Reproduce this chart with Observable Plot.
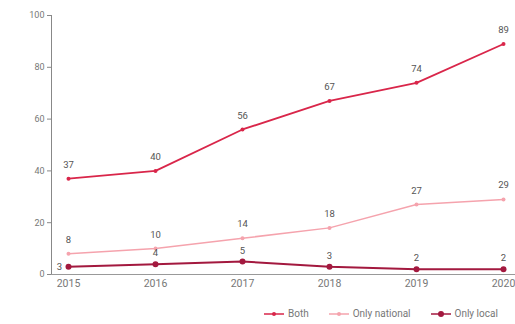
<!DOCTYPE html>
<html><head><meta charset="utf-8">
<script src="https://cdn.jsdelivr.net/npm/d3@7"></script>
<script src="https://cdn.jsdelivr.net/npm/@observablehq/plot@0.6"></script>
<style>
html,body{margin:0;padding:0;background:#fff;overflow:hidden;width:515px;height:324px;}
#wrap{position:relative;width:515px;height:324px;overflow:hidden;font-family:Roboto, "Noto Sans", sans-serif;}
#chart svg{max-width:none !important;}
#legend{position:absolute;left:264px;top:308px;display:flex;gap:20px;font-size:10px;color:#777;white-space:nowrap;align-items:center;}
#legend span.item{display:flex;align-items:center;gap:4px;}
</style></head>
<body><div id="wrap"><div id="chart"></div><div id="legend"></div></div>
<script>
const years = [2015, 2016, 2017, 2018, 2019, 2020];
const both = [37, 40, 56, 67, 74, 89];
const onlyNational = [8, 10, 14, 18, 27, 29];
const onlyLocal = [3, 4, 5, 3, 2, 2];
const seriesNames = ["Both", "Only national", "Only local"];
const seriesColors = ["#d9264a", "#f5a3ad", "#a3193f"];
const yTicks = [0, 20, 40, 60, 80, 100];

const rows = [];
[both, onlyNational, onlyLocal].forEach((vals, i) => {
  vals.forEach((v, j) => rows.push({series: seriesNames[i], year: years[j], value: v}));
});
const get = s => rows.filter(d => d.series === s);

const color = {domain: seriesNames, range: seriesColors};

const plot = Plot.plot({
  width: 540,
  height: 296,
  marginLeft: 51,
  marginRight: 20,
  marginTop: 15,
  marginBottom: 22,
  insetLeft: 17,
  insetRight: 17,
  style: {fontFamily: "Roboto, 'Noto Sans', sans-serif", fontSize: "9px", color: "#777", background: "#fff", maxWidth: "none"},
  x: {domain: [2015, 2020], ticks: years, tickFormat: d => String(d)},
  y: {domain: [0, 100]},
  color,
  marks: [
    Plot.axisY({ticks: yTicks, tickSize: 4, tickPadding: 3, stroke: "#888", fill: "#777", fontSize: 9, label: null}),
    Plot.axisX({ticks: years, tickSize: 0, tickPadding: 5, fill: "#777", fontSize: 10.5, label: null, tickFormat: d => String(d)}),
    Plot.frame({anchor: "left", stroke: "#888"}),
    Plot.ruleY([0], {stroke: "#999", strokeWidth: 1}),
    Plot.line(get("Only local"), {x: "year", y: "value", stroke: "series", strokeWidth: 2}),
    Plot.dot(get("Only local"), {x: "year", y: "value", fill: "series", r: 3}),
    Plot.line(get("Only national"), {x: "year", y: "value", stroke: "series", strokeWidth: 1.5}),
    Plot.dot(get("Only national"), {x: "year", y: "value", fill: "series", r: 2}),
    Plot.line(get("Both"), {x: "year", y: "value", stroke: "series", strokeWidth: 1.8}),
    Plot.dot(get("Both"), {x: "year", y: "value", fill: "series", r: 2}),
    Plot.text(get("Both"), {x: "year", y: "value", text: d => String(d.value), dy: -14, fill: "#555", fontSize: 9.5}),
    Plot.text(get("Only national"), {x: "year", y: "value", text: d => String(d.value), dy: -14, fill: "#555", fontSize: 9.5}),
    Plot.text(get("Only local").filter(d => d.year !== 2015), {x: "year", y: "value", text: d => String(d.value), dy: -11, fill: "#555", fontSize: 9.5}),
    Plot.text(get("Only local").filter(d => d.year === 2015), {x: "year", y: "value", text: d => String(d.value), dx: -9, dy: 0, fill: "#555", fontSize: 9.5})
  ]
});
document.getElementById("chart").appendChild(plot);

const legend = document.getElementById("legend");
seriesNames.forEach((name, i) => {
  const r = i === 2 ? 3 : 2;
  const item = document.createElement("span");
  item.className = "item";
  item.innerHTML = `<svg width="20" height="8"><line x1="0" y1="4" x2="20" y2="4" stroke="${seriesColors[i]}" stroke-width="1.5"/><circle cx="10" cy="4" r="${r}" fill="${seriesColors[i]}"/></svg><span>${name}</span>`;
  legend.appendChild(item);
});
</script></body></html>
